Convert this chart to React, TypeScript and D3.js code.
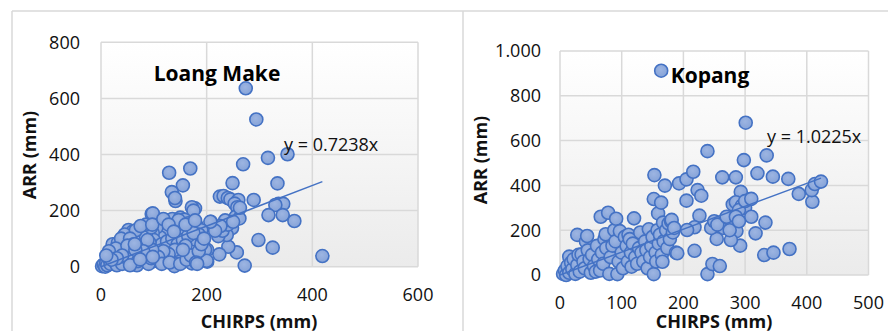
import React from 'react';
import * as d3 from 'd3';

// CHIRPS (x) vs ARR (y), mm
const loangMake: [number, number][] = [
  [274, 636], [294, 525], [353, 401], [316, 388], [269, 365], [129, 335], [169, 350], [155, 290], [134, 266], [141, 234],
  [140, 245], [249, 298], [334, 297], [289, 238], [225, 250], [232, 252], [240, 245], [245, 240], [260, 238], [253, 225],
  [258, 212], [336, 224], [345, 224], [330, 220], [317, 184], [344, 184], [366, 163], [298, 95], [325, 68], [419, 38],
  [272, 4], [257, 51], [241, 71], [224, 44], [201, 18], [201, 60], [180, 98], [178, 208], [172, 212], [175, 200],
  [208, 160], [255, 178], [262, 172], [263, 210], [248, 138], [238, 113], [222, 109], [230, 128], [240, 150], [235, 165],
  [250, 160], [226, 145], [216, 128], [207, 160], [197, 60], [200, 21], [172, 12], [156, 60], [140, 30], [139, 2],
  [175, 98], [96, 188], [100, 170], [110, 160], [120, 150], [125, 165], [135, 170], [145, 160], [150, 175], [158, 168],
  [165, 155], [170, 140], [180, 150], [190, 130], [185, 115], [160, 130], [150, 120], [140, 140], [130, 120], [120, 130],
  [112, 105], [105, 140], [98, 120], [100, 95], [115, 80], [125, 90], [135, 100], [145, 80], [155, 95], [165, 110],
  [175, 120], [160, 75], [150, 50], [140, 60], [128, 45], [118, 55], [108, 35], [100, 20], [115, 10], [130, 15],
  [150, 10], [162, 25], [170, 40], [185, 55], [190, 80], [195, 100], [180, 15], [147, 166], [155, 60], [182, 10],
  [2, 2], [5, 8], [8, 0], [10, 15], [12, 5], [15, 30], [18, 10], [20, 50], [22, 80], [25, 20],
  [28, 40], [30, 5], [32, 85], [35, 60], [38, 25], [40, 10], [42, 70], [45, 45], [48, 90], [50, 30],
  [52, 131], [55, 60], [58, 15], [60, 100], [62, 40], [65, 75], [68, 5], [70, 120], [72, 55], [75, 90],
  [78, 25], [80, 135], [82, 70], [85, 110], [88, 40], [90, 10], [92, 85], [95, 140], [97, 60], [60, 125],
  [45, 115], [38, 100], [28, 65], [15, 55], [66, 130], [85, 150], [75, 145], [55, 100], [62, 80], [50, 75],
  [40, 40], [30, 30], [20, 25], [10, 40], [70, 20], [88, 95], [95, 30], [80, 55], [65, 60], [55, 5],
  [64, 80], [74, 26], [98, 190], [97, 150], [98, 35], [118, 170], [128, 150], [138, 125], [160, 150], [178, 165],
];

const kopang: [number, number][] = [
  [5, 5], [8, 20], [10, 0], [12, 40], [15, 82], [15, 10], [18, 55], [20, 25], [22, 70], [25, 5],
  [28, 179], [28, 45], [30, 90], [32, 15], [35, 92], [38, 60], [40, 30], [42, 149], [44, 174], [45, 110],
  [48, 70], [50, 10], [52, 90], [55, 40], [58, 15], [60, 130], [62, 70], [65, 20], [66, 260], [68, 100],
  [70, 50], [72, 160], [74, 182], [75, 120], [78, 278], [80, 5], [82, 80], [85, 131], [88, 200], [90, 150],
  [91, 251], [93, 4], [95, 60], [97, 196], [100, 100], [102, 30], [105, 170], [108, 130], [110, 60], [111, 180],
  [113, 160], [115, 100], [116, 37], [118, 140], [120, 253], [122, 80], [125, 50], [128, 120], [130, 190], [132, 100],
  [135, 60], [138, 150], [140, 110], [142, 30], [144, 204], [146, 80], [148, 130], [150, 170], [152, 4], [152, 339],
  [153, 446], [155, 100], [156, 60], [158, 200], [159, 275], [160, 140], [162, 180], [164, 323], [165, 90], [166, 59],
  [167, 234], [168, 150], [170, 399], [172, 200], [174, 120], [176, 230], [178, 160], [180, 240], [181, 246], [183, 190],
  [185, 210], [188, 100], [190, 97], [193, 409], [164, 912], [301, 680], [335, 534], [239, 553], [298, 513], [205, 427],
  [216, 461], [223, 379], [229, 354], [205, 332], [263, 436], [285, 436], [320, 454], [345, 439], [370, 429], [293, 371],
  [306, 335], [280, 315], [285, 325], [295, 310], [300, 300], [290, 290], [387, 362], [409, 327], [408, 379], [413, 406],
  [423, 417], [310, 260], [317, 186], [333, 234], [331, 89], [346, 100], [372, 116], [292, 131], [286, 196], [277, 156],
  [270, 230], [265, 210], [275, 250], [254, 161], [245, 210], [250, 240], [255, 225], [226, 265], [218, 213], [206, 201],
  [218, 108], [239, 4], [247, 49], [259, 40], [270, 260], [275, 200], [300, 330], [310, 340], [285, 260], [290, 240],
];

const loangXTicks = [0, 200, 400, 600];
const loangYTicks = [0, 200, 400, 600, 800];
const kopangXTicks = [0, 100, 200, 300, 400, 500];
const kopangYTicks = [0, 200, 400, 600, 800, 1000];
const loangSlope = 0.7238;
const kopangSlope = 1.0225;

const FONT = '"Open Sans", sans-serif';
const GRID = '#d9d9d9';
const idFmt = d3.formatLocale({ decimal: ',', thousands: '.', grouping: [3], currency: ['', ''] }).format(',');

function Panel({ id, data, xTicks, yTicks, slope, title, box, lay }) {
  const x = d3.scaleLinear().domain([xTicks[0], xTicks[xTicks.length - 1]]).range([box.left, box.right]);
  const y = d3.scaleLinear().domain([yTicks[0], yTicks[yTicks.length - 1]]).range([box.bottom, box.top]);
  const maxX = d3.max(data, (d) => d[0]);
  const trend = d3.line()([[0, 0], [maxX, maxX * slope]].map((d) => [x(d[0]), y(d[1])]));

  return (
    <g>
      <defs>
        <linearGradient id={id} x1="0" y1="0" x2="0" y2="1">
          <stop offset="0" stopColor="#ffffff" />
          <stop offset="1" stopColor="#ebebeb" />
        </linearGradient>
        <radialGradient id={id + 'm'} cx="0.45" cy="0.4" r="0.6">
          <stop offset="0" stopColor="#9db5e2" />
          <stop offset="1" stopColor="#86a3d8" />
        </radialGradient>
      </defs>
      <rect x={box.left} y={box.top} width={box.right - box.left} height={box.bottom - box.top} fill={`url(#${id})`} />
      {xTicks.map((t) => (
        <line key={'gx' + t} x1={x(t)} x2={x(t)} y1={box.top} y2={box.bottom} stroke={GRID} strokeWidth={1.5} />
      ))}
      {yTicks.map((t) => (
        <line key={'gy' + t} x1={box.left} x2={box.right} y1={y(t)} y2={y(t)} stroke={GRID} strokeWidth={1.5} />
      ))}
      {xTicks.map((t) => (
        <text key={'tx' + t} x={x(t)} y={lay.xLabelY} textAnchor="middle" fontSize={18} fill="#111">{t}</text>
      ))}
      {yTicks.map((t) => (
        <text key={'ty' + t} x={lay.yLabelX} y={y(t)} dy="0.35em" textAnchor="end" fontSize={18} fill="#111">{idFmt(t)}</text>
      ))}
      {data.map((d, i) => (
        <circle key={i} cx={x(d[0])} cy={y(d[1])} r={6.5} fill={`url(#${id}m)`} stroke="#4472c4" strokeWidth={1.6} />
      ))}
      <path d={trend} stroke="#4472c4" strokeWidth={1.5} fill="none" />
      <text x={lay.titleX} y={lay.titleY} textAnchor="middle" fontSize={21} fontWeight="bold" fill="#000">{title}</text>
      <text x={lay.eqX} y={lay.eqY} fontSize={18} fill="#111">{`y = ${slope}x`}</text>
      <text x={lay.xTitleX} y={328} textAnchor="middle" fontSize={18} fontWeight="bold" fill="#111">CHIRPS (mm)</text>
      <text transform={`translate(${lay.yTitleX},${lay.yTitleY}) rotate(-90)`} dy="0.35em" textAnchor="middle" fontSize={18} fontWeight="bold" fill="#111">ARR (mm)</text>
    </g>
  );
}

export default function App() {
  return (
    <svg width={888} height={331} style={{ position: 'absolute', left: 0, top: 0, fontFamily: FONT, background: '#fff' }}>
      <line x1={12} x2={888} y1={11} y2={11} stroke={GRID} strokeWidth={1.5} />
      <line x1={12} x2={12} y1={11} y2={331} stroke={GRID} strokeWidth={1.5} />
      <line x1={463} x2={463} y1={11} y2={331} stroke={GRID} strokeWidth={1.5} />
      <Panel
        id="gL"
        data={loangMake}
        xTicks={loangXTicks}
        yTicks={loangYTicks}
        slope={loangSlope}
        title="Loang Make"
        box={{ left: 101, right: 418, top: 42.3, bottom: 266.7 }}
        lay={{ titleX: 217, titleY: 81, eqX: 284, eqY: 151, xTitleX: 259, yTitleX: 30, yTitleY: 155, yLabelX: 80, xLabelY: 301 }}
      />
      <Panel
        id="gR"
        data={kopang}
        xTicks={kopangXTicks}
        yTicks={kopangYTicks}
        slope={kopangSlope}
        title="Kopang"
        box={{ left: 560, right: 868.5, top: 51, bottom: 275 }}
        lay={{ titleX: 710, titleY: 83, eqX: 767, eqY: 143, xTitleX: 714, yTitleX: 481, yTitleY: 160, yLabelX: 541, xLabelY: 309 }}
      />
    </svg>
  );
}
